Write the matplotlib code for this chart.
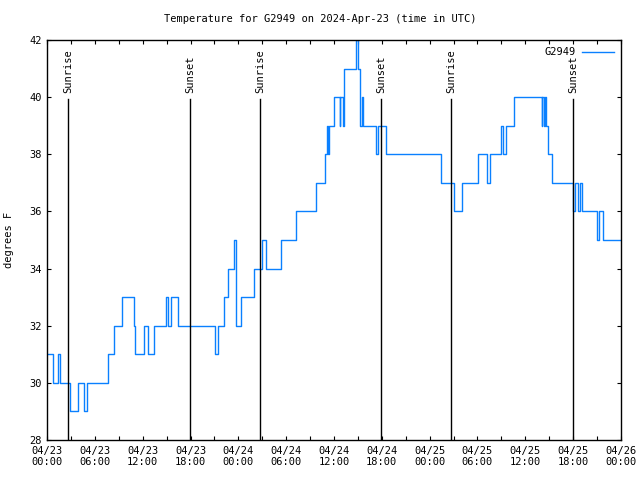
import matplotlib
matplotlib.use("Agg")
import matplotlib.pyplot as plt
from matplotlib.ticker import MultipleLocator

# hours since 2024-04-23 00:00 UTC where the reading changes, and the new value (F)
hours = [0.0, 0.69, 1.44, 1.69, 2.9, 3.95, 4.58, 5.02, 7.65, 8.4, 9.47, 10.9, 11.1,
         12.17, 12.73, 13.4, 14.93, 15.24, 15.5, 16.43, 21.1, 21.5, 22.2, 22.45, 22.7,
         23.4, 23.7, 24.3, 26.0, 26.97, 27.5, 29.35, 31.2, 33.74, 34.87, 35.1, 35.25,
         35.4, 35.94, 36.7, 36.8, 37.1, 37.25, 38.7, 39.07, 39.2, 39.3, 39.45, 39.6,
         41.33, 41.58, 42.5, 49.36, 51.05, 52.0, 54.06, 55.19, 55.63, 56.89, 57.2,
         57.6, 58.58, 62.03, 62.15, 62.28, 62.47, 62.6, 62.9, 63.4, 66.04, 66.29,
         66.6, 66.86, 67.17, 69.0, 69.24, 69.68, 72.0]
temps = [31, 30, 31, 30, 29, 30, 29, 30, 31, 32, 33, 32, 31,
         32, 31, 32, 33, 32, 33, 32, 31, 32, 33, 33, 34,
         35, 32, 33, 34, 35, 34, 35, 36, 37, 38, 39, 38,
         39, 40, 39, 40, 39, 41, 42, 41, 40, 39, 40, 39,
         38, 39, 38, 37, 36, 37, 38, 37, 38, 39, 38,
         39, 40, 39, 40, 39, 40, 39, 38, 37, 36, 37,
         36, 37, 36, 35, 36, 35, 35]

sun_hours = [2.63, 17.93, 26.73, 41.91, 50.69, 65.96]
sun_labels = ["Sunrise", "Sunset", "Sunrise", "Sunset", "Sunrise", "Sunset"]

tick_hours = [0, 6, 12, 18, 24, 30, 36, 42, 48, 54, 60, 66, 72]
tick_labels = ["04/23\n00:00", "04/23\n06:00", "04/23\n12:00", "04/23\n18:00",
               "04/24\n00:00", "04/24\n06:00", "04/24\n12:00", "04/24\n18:00",
               "04/25\n00:00", "04/25\n06:00", "04/25\n12:00", "04/25\n18:00",
               "04/26\n00:00"]

plt.rcParams['font.family'] = 'DejaVu Sans Mono'
plt.rcParams['font.size'] = 7.5

fig = plt.figure(figsize=(6.4, 4.8), dpi=100)
ax = fig.add_axes([47 / 640, 40 / 480, 574 / 640, 400 / 480])

ax.step(hours, temps, where='post', color='#0a80ff', lw=1.0, label='G2949')

for h, lab in zip(sun_hours, sun_labels):
    ax.axvline(h, ymin=0, ymax=0.852, color='black', lw=1.0)
    ax.text(h, 0.868, lab, transform=ax.get_xaxis_transform(), rotation=90,
            ha='center', va='bottom')

ax.set_xlim(0, 72)
ax.set_ylim(28, 42)
ax.set_xticks(tick_hours)
ax.set_xticklabels(tick_labels)
ax.xaxis.set_minor_locator(MultipleLocator(3))
ax.set_yticks(range(28, 43, 2))
ax.tick_params(which='both', direction='in', top=True, right=True, length=3,
               width=0.8, pad=4)
ax.set_ylabel('degrees F', labelpad=11)
for s in ax.spines.values():
    s.set_linewidth(1.0)

ax.legend(loc='upper right', frameon=False, handlelength=3.0, markerfirst=False,
          borderaxespad=0.3, handletextpad=0.6)
fig.text(0.5, 1 - 19 / 480, 'Temperature for G2949 on 2024-Apr-23 (time in UTC)',
         ha='center', va='center')

fig.savefig('out.png', dpi=100)
